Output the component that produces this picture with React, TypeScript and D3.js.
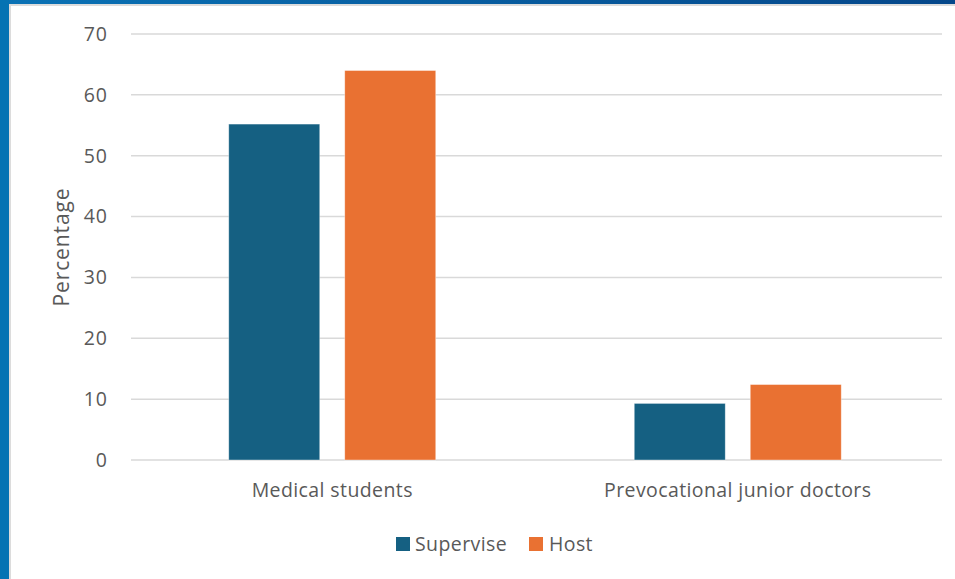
import React from "react";
import * as d3 from "d3";

const categories = ["Medical students", "Prevocational junior doctors"];
const seriesNames = ["Supervise", "Host"];
const supervise = [55.2, 9.3];
const host = [64.0, 12.4];
const yTicks = [0, 10, 20, 30, 40, 50, 60, 70];
const colors = ["#156082", "#E97132"];

const W = 955;
const H = 579;
const FONT = "'Open Sans', 'Liberation Sans', sans-serif";

export default function App() {
  const left = 131;
  const right = 942;
  const top = 34;
  const bottom = 460;
  const y = d3.scaleLinear().domain([0, 70]).range([bottom, top]);
  const x = d3.scaleBand<string>().domain(categories).range([left - 1.5, right - 1.5]).paddingInner(0).paddingOuter(0);
  const bw = 91;
  const gap = 25;
  const values = [supervise, host];

  return (
    <svg width={W} height={H} style={{ position: "absolute", left: 0, top: 0 }} fontFamily={FONT}>
      <defs>
        <linearGradient id="topg" x1="0" x2="1" y1="0" y2="0">
          <stop offset="0" stopColor="#0a72b5" />
          <stop offset="1" stopColor="#05478a" />
        </linearGradient>
      </defs>
      <rect x={0} y={0} width={W} height={H} fill="#ffffff" />
      <rect x={0} y={0} width={W} height={4} fill="url(#topg)" />
      <rect x={9} y={4} width={W - 9} height={2} fill="#dcdcdc" />
      <rect x={0} y={0} width={9} height={H} fill="#0573b3" />
      <rect x={9} y={4} width={2} height={H} fill="#dcdcdc" />
      {yTicks.map((t) => (
        <g key={t}>
          <line x1={left} x2={right} y1={y(t)} y2={y(t)} stroke="#d9d9d9" strokeWidth={1.5} />
          <text x={108} y={y(t)} dy="0.35em" textAnchor="end" fontSize={19.5} letterSpacing={1} fill="#595959">
            {t}
          </text>
        </g>
      ))}
      {categories.map((c, i) => {
        const cx = (x(c) as number) + x.bandwidth() / 2;
        const groupW = bw * 2 + gap;
        return (
          <g key={c}>
            {values.map((vals, s) => (
              <rect
                key={s}
                x={cx - groupW / 2 + s * (bw + gap)}
                y={y(vals[i])}
                width={bw}
                height={bottom - y(vals[i])}
                fill={colors[s]}
                stroke="#ffffff"
                strokeOpacity={0.5}
                strokeWidth={0.75}
              />
            ))}
            <text x={cx} y={490} dy="0.35em" textAnchor="middle" fontSize={19.5} letterSpacing={0.4} fill="#595959">
              {c}
            </text>
          </g>
        );
      })}
      <text
        transform={`translate(62, ${(top + bottom) / 2}) rotate(-90)`}
        textAnchor="middle"
        dy="0.35em"
        fontSize={21}
        letterSpacing={0.9}
        fill="#595959"
      >
        Percentage
      </text>
      <g>
        <rect x={396} y={537} width={14} height={14} fill={colors[0]} />
        <text x={415} y={544} dy="0.35em" fontSize={19.5} letterSpacing={0.4} fill="#595959">
          {seriesNames[0]}
        </text>
        <rect x={529} y={537} width={14} height={14} fill={colors[1]} />
        <text x={549} y={544} dy="0.35em" fontSize={19.5} letterSpacing={0.4} fill="#595959">
          {seriesNames[1]}
        </text>
      </g>
    </svg>
  );
}
